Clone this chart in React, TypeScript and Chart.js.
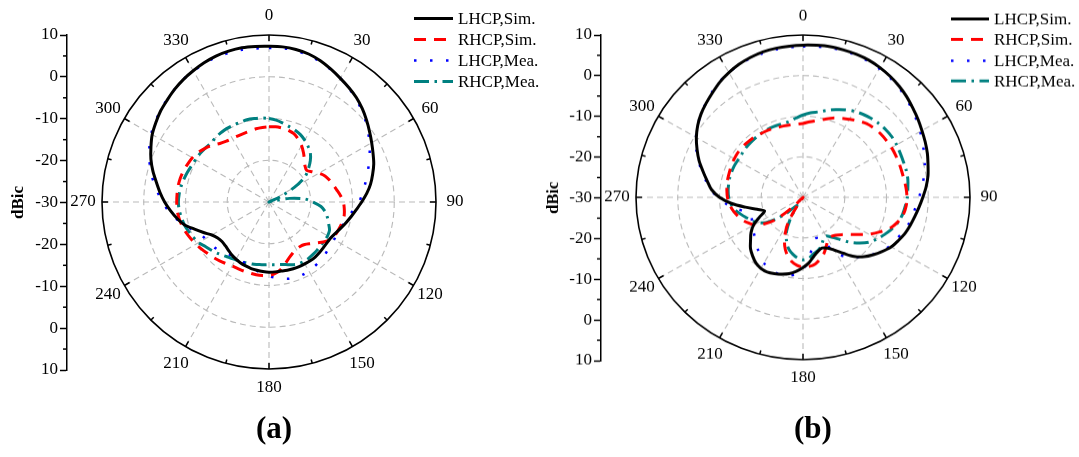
import React, { useEffect, useRef } from 'react';
import { Chart, registerables } from 'chart.js';

Chart.register(...registerables);

// Angles (degrees, clockwise from top)
const ANGLES = [
  0, 5, 10, 15, 20, 25, 30, 35, 40, 45, 50, 55, 60, 65, 70, 75, 80, 85,
  90, 95, 100, 105, 110, 115, 120, 125, 130, 135, 140, 145, 150, 155, 160, 165, 170, 175,
  180, 185, 190, 195, 200, 205, 210, 215, 220, 225, 230, 235, 240, 245, 250, 255, 260, 265,
  270, 275, 280, 285, 290, 295, 300, 305, 310, 315, 320, 325, 330, 335, 340, 345, 350, 355,
];
const ANGLE_TICKS = [0, 30, 60, 90, 120, 150, 180, 210, 240, 270, 300, 330];
const SERIES_LABELS = ['LHCP,Sim.', 'RHCP,Sim.', 'LHCP,Mea.', 'RHCP,Mea.'];

// Panel (a)
const A_LHCP_SIM = [
  7.3, 7.3, 7.1, 6.7, 6.0, 5.1, 4.2, 3.4, 2.6, 1.6, 0.5, -0.6, -1.6, -2.5, -3.3, -4.3, -5.3, -6.5,
  -7.8, -9.0, -10.0, -10.9, -11.7, -12.4, -12.9, -13.0, -13.0, -12.9, -12.8, -12.8, -12.9, -12.9, -13.0, -13.1, -13.2, -13.2,
  -13.2, -13.3, -13.4, -13.5, -13.7, -13.9, -14.2, -14.5, -14.9, -15.2, -15.3, -15.0, -14.2, -12.7, -11.0, -9.0, -7.6, -6.3,
  -5.0, -3.8, -2.6, -1.2, 0.1, 1.2, 2.3, 3.1, 3.9, 4.5, 5.2, 5.8, 6.3, 6.8, 7.2, 7.4, 7.5, 7.4,
];
const A_RHCP_SIM = [
  -12.0, -11.9, -12.0, -12.2, -12.6, -13.4, -14.4, -15.6, -16.8, -17.8, -18.2, -17.4, -16.2, -15.2, -14.6, -14.1, -13.5, -12.8,
  -12.2, -11.9, -11.7, -11.8, -12.0, -12.2, -12.6, -13.5, -14.8, -15.9, -16.7, -17.0, -16.9, -16.5, -15.8, -14.8, -13.6, -12.8,
  -12.4, -12.3, -12.3, -12.4, -12.4, -12.4, -12.3, -12.0, -11.6, -11.2, -10.8, -10.3, -9.8, -9.3, -8.8, -8.4, -8.1, -7.9,
  -7.9, -7.9, -7.9, -8.0, -8.2, -8.5, -8.8, -9.3, -10.0, -10.8, -11.7, -12.2, -12.4, -12.5, -12.5, -12.4, -12.2, -12.1,
];
const A_LHCP_MEA = [
  6.9, 7.0, 6.8, 6.4, 5.8, 5.0, 4.2, 3.3, 2.4, 1.3, 0.2, -1.0, -2.2, -3.4, -4.6, -5.7, -6.7, -7.6,
  -8.4, -9.6, -10.6, -11.3, -11.8, -12.0, -12.0, -12.0, -11.8, -11.5, -11.3, -11.1, -10.9, -10.8, -10.8, -11.0, -11.4, -11.8,
  -12.2, -12.7, -13.3, -13.8, -14.2, -14.4, -14.5, -14.4, -14.0, -13.5, -13.0, -12.7, -12.4, -11.8, -10.5, -9.0, -7.3, -5.8,
  -4.5, -3.2, -1.9, -0.6, 0.5, 1.6, 2.6, 3.3, 4.0, 4.6, 5.2, 5.8, 6.2, 6.6, 6.9, 7.0, 7.0, 6.9,
];
const A_RHCP_MEA = [
  -10.0, -10.3, -10.8, -11.3, -11.7, -12.2, -12.9, -13.7, -14.6, -16.0, -17.7, -19.5, -23.0, -27.0, -30.0, -29.0, -25.0, -21.5,
  -19.5, -17.5, -16.3, -15.5, -14.8, -14.0, -13.8, -13.8, -13.8, -13.7, -13.6, -13.5, -13.5, -13.6, -14.0, -14.5, -14.8, -14.9,
  -15.0, -14.9, -14.8, -14.6, -14.5, -14.2, -14.0, -13.7, -13.2, -12.6, -12.0, -11.4, -10.5, -10.0, -9.5, -9.0, -8.7, -8.4,
  -8.3, -8.4, -8.6, -8.9, -9.2, -9.5, -9.7, -9.8, -10.0, -10.2, -10.0, -9.8, -9.7, -9.7, -9.7, -9.6, -9.7, -9.8,
];

// Panel (b)
const B_LHCP_SIM = [
  7.5, 7.6, 7.7, 7.6, 7.5, 7.3, 6.9, 6.4, 5.8, 5.1, 4.3, 3.6, 2.9, 2.3, 1.7, 1.0, 0.4, -0.4,
  -1.3, -2.1, -2.8, -3.4, -4.0, -4.8, -5.6, -6.8, -8.0, -9.3, -11.0, -13.2, -15.0, -16.2, -16.7, -16.2, -15.2, -13.8,
  -12.7, -11.7, -10.9, -10.4, -10.0, -9.7, -9.8, -10.3, -11.2, -12.2, -13.6, -14.8, -16.3, -18.5, -20.2, -18.6, -16.0, -12.8,
  -10.0, -8.0, -6.7, -5.2, -3.5, -2.0, -0.5, 0.8, 1.9, 2.8, 3.7, 4.7, 5.5, 6.2, 6.7, 7.1, 7.3, 7.4,
];
const B_RHCP_SIM = [
  -11.8, -11.3, -10.8, -10.1, -9.2, -8.5, -7.8, -7.0, -6.3, -5.9, -5.7, -5.6, -5.5, -5.5, -5.5, -5.5, -5.4, -5.2,
  -5.1, -5.2, -5.6, -6.5, -7.8, -9.8, -11.8, -14.0, -15.8, -17.0, -17.8, -18.2, -17.9, -16.8, -15.3, -14.2, -13.3, -12.9,
  -12.8, -13.2, -14.0, -15.3, -17.2, -19.8, -23.0, -28.0, -30.0, -27.0, -21.5, -18.5, -16.5, -15.3, -14.3, -13.5, -12.8, -12.3,
  -11.9, -11.7, -11.5, -11.4, -11.3, -11.1, -11.0, -10.9, -10.9, -11.0, -11.1, -11.3, -11.4, -11.5, -11.7, -11.8, -11.9, -11.9,
];
const B_LHCP_MEA = [
  7.2, 7.3, 7.4, 7.4, 7.3, 7.0, 6.6, 6.1, 5.5, 4.8, 4.0, 3.2, 2.4, 1.6, 0.9, 0.2, -0.6, -1.4,
  -2.2, -2.9, -3.4, -3.9, -4.6, -5.4, -6.0, -7.0, -8.1, -9.3, -10.8, -12.2, -14.0, -17.5, -19.3, -19.4, -17.5, -14.5,
  -12.3, -11.0, -10.4, -10.2, -10.3, -10.7, -11.3, -12.2, -13.2, -14.1, -14.9, -15.5, -16.0, -16.5, -16.8, -16.0, -13.8, -11.5,
  -9.6, -7.8, -6.4, -4.9, -3.3, -1.8, -0.4, 0.8, 1.9, 2.9, 3.9, 4.8, 5.5, 6.1, 6.5, 6.8, 7.0, 7.1,
];
const B_RHCP_MEA = [
  -9.7, -9.1, -8.6, -7.8, -7.0, -6.2, -5.5, -5.0, -4.6, -4.3, -4.1, -4.0, -4.1, -4.3, -4.4, -4.4, -4.5, -4.8,
  -5.0, -5.4, -5.8, -6.4, -7.3, -8.4, -9.5, -10.7, -12.5, -14.4, -16.5, -18.0, -19.0, -18.5, -17.2, -16.4, -15.8, -14.9,
  -14.6, -15.0, -15.8, -16.8, -18.5, -20.6, -24.0, -27.5, -27.0, -24.5, -22.0, -19.2, -17.5, -16.5, -15.5, -14.4, -13.3, -12.6,
  -12.2, -12.0, -11.9, -11.8, -11.8, -11.8, -11.9, -11.9, -11.7, -11.6, -11.5, -11.4, -11.3, -11.2, -11.2, -11.2, -11.0, -10.4,
];

const FONT = '"Liberation Serif", "Times New Roman", serif';
const GRID_GREY = '#bababa';

const STYLES = [
  { color: '#000000', width: 3, dash: [] as number[], tension: 0.3 },
  { color: '#ff0000', width: 3, dash: [12, 8], tension: 0.3 },
  { color: '#0000ff', width: 2.5, dash: [2.5, 13.5], tension: 0.3 },
  { color: '#008080', width: 3, dash: [15, 5.5, 2.5, 5.5], tension: 0.3 },
];

const decorPlugin = {
  id: 'decor',
  afterDraw(chart: any, _args: any, opts: any) {
    const ctx = chart.ctx as CanvasRenderingContext2D;
    const r = chart.scales.r;
    const y = chart.scales.y;
    const R = r.drawingArea;
    ctx.save();
    // tick marks on the outer circle
    ctx.strokeStyle = '#000';
    ctx.lineWidth = 1.5;
    ctx.setLineDash([]);
    ANGLES.forEach((a, i) => {
      if (a % 15 !== 0) return;
      const len = a % 30 === 0 ? 6 : 4;
      const p1 = r.getPointPosition(i, R);
      const p2 = r.getPointPosition(i, R - len);
      ctx.beginPath();
      ctx.moveTo(p1.x, p1.y);
      ctx.lineTo(p2.x, p2.y);
      ctx.stroke();
    });
    // angle labels
    ctx.fillStyle = '#000';
    ctx.font = `17px ${FONT}`;
    ctx.textAlign = 'center';
    ctx.textBaseline = 'middle';
    ANGLE_TICKS.forEach((a) => {
      const i = ANGLES.indexOf(a);
      const p = r.getPointPosition(i, R + 19);
      ctx.fillText(String(a), p.x, p.y);
    });
    // minor ticks of the dB axis
    ctx.lineWidth = 1.5;
    for (let v = -35; v <= 35; v += 10) {
      const py = y.getPixelForValue(v);
      ctx.beginPath();
      ctx.moveTo(y.right - 4, py);
      ctx.lineTo(y.right, py);
      ctx.stroke();
    }
    // legend
    const lg = opts.legend;
    chart.data.datasets.forEach((ds: any, k: number) => {
      const yy = lg.rows[k];
      ctx.save();
      ctx.strokeStyle = ds.borderColor;
      ctx.lineWidth = ds.borderWidth;
      ctx.setLineDash(ds.borderDash || []);
      ctx.lineCap = 'butt';
      ctx.beginPath();
      ctx.moveTo(lg.x0, yy);
      ctx.lineTo(lg.x1, yy);
      ctx.stroke();
      ctx.restore();
      ctx.fillStyle = '#000';
      ctx.font = `17px ${FONT}`;
      ctx.textAlign = 'left';
      ctx.textBaseline = 'middle';
      ctx.fillText(ds.label, lg.tx, yy + 1);
    });
    ctx.restore();
  },
};

type PanelProps = {
  width: number;
  series: number[][];
  axisX: number;
  padRight: number;
  padTop: number;
  padBottom: number;
  titlePad: number;
  legend: { x0: number; x1: number; tx: number; rows: number[] };
};

function PolarPanel(props: PanelProps) {
  const ref = useRef<HTMLCanvasElement | null>(null);
  useEffect(() => {
    if (!ref.current) return;
    const datasets = props.series.map((d, k) => ({
      label: SERIES_LABELS[k],
      data: d,
      borderColor: STYLES[k].color,
      backgroundColor: STYLES[k].color,
      borderWidth: STYLES[k].width,
      borderDash: STYLES[k].dash,
      borderCapStyle: 'butt',
      borderJoinStyle: 'round',
      tension: STYLES[k].tension,
      fill: false,
      pointRadius: 0,
      pointHoverRadius: 0,
      pointHitRadius: 0,
    }));
    const chart = new Chart(ref.current, {
      type: 'radar',
      data: { labels: ANGLES.map(String), datasets },
      plugins: [decorPlugin],
      options: {
        responsive: false,
        maintainAspectRatio: false,
        animation: false,
        devicePixelRatio: 1,
        events: [],
        layout: { padding: { left: 0, right: props.padRight, top: props.padTop, bottom: props.padBottom } },
        plugins: {
          legend: { display: false },
          tooltip: { enabled: false },
          decor: { legend: props.legend },
        } as any,
        scales: {
          r: {
            min: -30,
            max: 10,
            startAngle: 0,
            ticks: { display: false, stepSize: 10 },
            pointLabels: { display: false },
            grid: {
              circular: true,
              color: (c: any) => (c.tick && c.tick.value === 10 ? '#000000' : GRID_GREY),
              lineWidth: (c: any) => (c.tick && c.tick.value === 10 ? 1.6 : 1.1),
            },
            border: {
              dash: (c: any) => (c.tick && c.tick.value === 10 ? [] : [6, 4]),
            },
            angleLines: {
              display: true,
              color: GRID_GREY,
              lineWidth: (c: any) => (ANGLES[c.index] % 30 === 0 ? 1.1 : 0),
              borderDash: [6, 4],
            },
          },
          y: {
            type: 'linear',
            position: 'left',
            min: -40,
            max: 40,
            afterFit: (s: any) => {
              s.width = props.axisX;
            },
            ticks: {
              stepSize: 5,
              autoSkip: false,
              padding: 2,
              color: '#000',
              font: { family: FONT, size: 17 },
              callback: (v: any) => (Number(v) % 10 === 0 ? String(Math.abs(Number(v)) - 30) : ''),
            },
            grid: {
              display: true,
              drawOnChartArea: false,
              drawTicks: true,
              tickLength: 7,
              tickWidth: 1.5,
              tickColor: (c: any) => (c.tick && c.tick.value % 10 === 0 ? '#000000' : 'rgba(0,0,0,0)'),
            },
            border: { display: true, color: '#000', width: 1.5 },
            title: {
              display: true,
              text: 'dBic',
              color: '#000',
              font: { family: FONT, size: 17, weight: 'bold', lineHeight: 1.2 },
              padding: { top: props.titlePad, bottom: 0 },
            },
          },
        } as any,
      } as any,
    });
    return () => chart.destroy();
  }, []);
  return <canvas ref={ref} width={props.width} height={457} style={{ display: 'block', width: props.width, height: 457 }} />;
}

const captionStyle: React.CSSProperties = {
  position: 'absolute',
  top: 410,
  width: 80,
  textAlign: 'center',
  fontFamily: FONT,
  fontWeight: 'bold',
  fontSize: 31,
  lineHeight: '36px',
  color: '#000',
};

export default function App() {
  return (
    <div style={{ position: 'absolute', left: 0, top: 0, width: 1079, height: 457, background: '#fff', overflow: 'hidden' }}>
      <div style={{ position: 'absolute', left: 0, top: 0 }}>
        <PolarPanel
          width={540}
          series={[A_LHCP_SIM, A_RHCP_SIM, A_LHCP_MEA, A_RHCP_MEA]}
          axisX={67}
          padRight={69}
          padTop={35}
          padBottom={87}
          titlePad={8}
          legend={{ x0: 414, x1: 453, tx: 458, rows: [18.5, 39.5, 60.5, 81.5] }}
        />
      </div>
      <div style={{ position: 'absolute', left: 540, top: 0, transform: 'scaleY(0.972)', transformOrigin: '0 0' }}>
        <PolarPanel
          width={539}
          series={[B_LHCP_SIM, B_RHCP_SIM, B_LHCP_MEA, B_RHCP_MEA]}
          axisX={61}
          padRight={73}
          padTop={36}
          padBottom={86}
          titlePad={3}
          legend={{ x0: 411, x1: 449, tx: 454, rows: [19.5, 40.5, 62.5, 83.3] }}
        />
      </div>
      <div style={{ ...captionStyle, left: 274 - 40 }}>(a)</div>
      <div style={{ ...captionStyle, left: 813 - 40 }}>(b)</div>
    </div>
  );
}
